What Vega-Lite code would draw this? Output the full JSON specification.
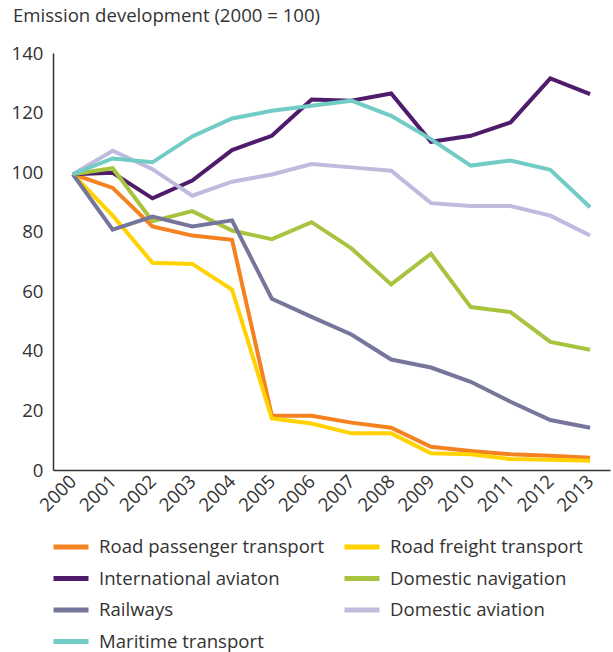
{
  "$schema": "https://vega.github.io/schema/vega-lite/v6.json",
  "width": 557,
  "height": 417,
  "autosize": {"type": "none"},
  "padding": {"left": 53, "top": 53, "right": 3, "bottom": 182},
  "background": "white",
  "title": {"text": "Emission development (2000 = 100)", "anchor": "start", "frame": "group", "dx": -40, "offset": 18, "fontSize": 18.6, "fontWeight": "normal", "font": "Open Sans", "color": "#333333"},
  "config": {"view": {"stroke": null}, "font": "Open Sans"},
  "data": {"values": [
    {"year": "2000", "series": "Road passenger transport", "value": 99.3},
    {"year": "2001", "series": "Road passenger transport", "value": 94.7},
    {"year": "2002", "series": "Road passenger transport", "value": 81.8},
    {"year": "2003", "series": "Road passenger transport", "value": 78.7},
    {"year": "2004", "series": "Road passenger transport", "value": 77.3},
    {"year": "2005", "series": "Road passenger transport", "value": 18.2},
    {"year": "2006", "series": "Road passenger transport", "value": 18.2},
    {"year": "2007", "series": "Road passenger transport", "value": 15.9},
    {"year": "2008", "series": "Road passenger transport", "value": 14.2},
    {"year": "2009", "series": "Road passenger transport", "value": 7.8},
    {"year": "2010", "series": "Road passenger transport", "value": 6.4},
    {"year": "2011", "series": "Road passenger transport", "value": 5.3},
    {"year": "2012", "series": "Road passenger transport", "value": 4.8},
    {"year": "2013", "series": "Road passenger transport", "value": 4.1},
    {"year": "2000", "series": "Road freight transport", "value": 99.3},
    {"year": "2001", "series": "Road freight transport", "value": 85.4},
    {"year": "2002", "series": "Road freight transport", "value": 69.6},
    {"year": "2003", "series": "Road freight transport", "value": 69.2},
    {"year": "2004", "series": "Road freight transport", "value": 60.6},
    {"year": "2005", "series": "Road freight transport", "value": 17.3},
    {"year": "2006", "series": "Road freight transport", "value": 15.6},
    {"year": "2007", "series": "Road freight transport", "value": 12.3},
    {"year": "2008", "series": "Road freight transport", "value": 12.3},
    {"year": "2009", "series": "Road freight transport", "value": 5.6},
    {"year": "2010", "series": "Road freight transport", "value": 5.3},
    {"year": "2011", "series": "Road freight transport", "value": 3.7},
    {"year": "2012", "series": "Road freight transport", "value": 3.4},
    {"year": "2013", "series": "Road freight transport", "value": 3.1},
    {"year": "2000", "series": "International aviaton", "value": 99.3},
    {"year": "2001", "series": "International aviaton", "value": 99.8},
    {"year": "2002", "series": "International aviaton", "value": 91.2},
    {"year": "2003", "series": "International aviaton", "value": 97.2},
    {"year": "2004", "series": "International aviaton", "value": 107.4},
    {"year": "2005", "series": "International aviaton", "value": 112.2},
    {"year": "2006", "series": "International aviaton", "value": 124.4},
    {"year": "2007", "series": "International aviaton", "value": 124.0},
    {"year": "2008", "series": "International aviaton", "value": 126.4},
    {"year": "2009", "series": "International aviaton", "value": 110.2},
    {"year": "2010", "series": "International aviaton", "value": 112.2},
    {"year": "2011", "series": "International aviaton", "value": 116.7},
    {"year": "2012", "series": "International aviaton", "value": 131.5},
    {"year": "2013", "series": "International aviaton", "value": 126.2},
    {"year": "2000", "series": "Domestic navigation", "value": 99.3},
    {"year": "2001", "series": "Domestic navigation", "value": 101.3},
    {"year": "2002", "series": "Domestic navigation", "value": 83.5},
    {"year": "2003", "series": "Domestic navigation", "value": 86.9},
    {"year": "2004", "series": "Domestic navigation", "value": 80.4},
    {"year": "2005", "series": "Domestic navigation", "value": 77.5},
    {"year": "2006", "series": "Domestic navigation", "value": 83.2},
    {"year": "2007", "series": "Domestic navigation", "value": 74.4},
    {"year": "2008", "series": "Domestic navigation", "value": 62.3},
    {"year": "2009", "series": "Domestic navigation", "value": 72.6},
    {"year": "2010", "series": "Domestic navigation", "value": 54.7},
    {"year": "2011", "series": "Domestic navigation", "value": 53.0},
    {"year": "2012", "series": "Domestic navigation", "value": 43.0},
    {"year": "2013", "series": "Domestic navigation", "value": 40.4},
    {"year": "2000", "series": "Railways", "value": 99.3},
    {"year": "2001", "series": "Railways", "value": 80.7},
    {"year": "2002", "series": "Railways", "value": 85.1},
    {"year": "2003", "series": "Railways", "value": 81.8},
    {"year": "2004", "series": "Railways", "value": 83.8},
    {"year": "2005", "series": "Railways", "value": 57.5},
    {"year": "2006", "series": "Railways", "value": 51.4},
    {"year": "2007", "series": "Railways", "value": 45.5},
    {"year": "2008", "series": "Railways", "value": 37.1},
    {"year": "2009", "series": "Railways", "value": 34.4},
    {"year": "2010", "series": "Railways", "value": 29.6},
    {"year": "2011", "series": "Railways", "value": 22.9},
    {"year": "2012", "series": "Railways", "value": 16.8},
    {"year": "2013", "series": "Railways", "value": 14.2},
    {"year": "2000", "series": "Domestic aviation", "value": 99.3},
    {"year": "2001", "series": "Domestic aviation", "value": 107.2},
    {"year": "2002", "series": "Domestic aviation", "value": 101.0},
    {"year": "2003", "series": "Domestic aviation", "value": 92.1},
    {"year": "2004", "series": "Domestic aviation", "value": 96.8},
    {"year": "2005", "series": "Domestic aviation", "value": 99.2},
    {"year": "2006", "series": "Domestic aviation", "value": 102.7},
    {"year": "2007", "series": "Domestic aviation", "value": 101.6},
    {"year": "2008", "series": "Domestic aviation", "value": 100.5},
    {"year": "2009", "series": "Domestic aviation", "value": 89.6},
    {"year": "2010", "series": "Domestic aviation", "value": 88.6},
    {"year": "2011", "series": "Domestic aviation", "value": 88.6},
    {"year": "2012", "series": "Domestic aviation", "value": 85.4},
    {"year": "2013", "series": "Domestic aviation", "value": 78.7},
    {"year": "2000", "series": "Maritime transport", "value": 99.3},
    {"year": "2001", "series": "Maritime transport", "value": 104.6},
    {"year": "2002", "series": "Maritime transport", "value": 103.3},
    {"year": "2003", "series": "Maritime transport", "value": 112.0},
    {"year": "2004", "series": "Maritime transport", "value": 118.0},
    {"year": "2005", "series": "Maritime transport", "value": 120.6},
    {"year": "2006", "series": "Maritime transport", "value": 122.3},
    {"year": "2007", "series": "Maritime transport", "value": 124.0},
    {"year": "2008", "series": "Maritime transport", "value": 118.9},
    {"year": "2009", "series": "Maritime transport", "value": 111.1},
    {"year": "2010", "series": "Maritime transport", "value": 102.2},
    {"year": "2011", "series": "Maritime transport", "value": 103.9},
    {"year": "2012", "series": "Maritime transport", "value": 100.8},
    {"year": "2013", "series": "Maritime transport", "value": 88.2}
  ]},
  "mark": {"type": "line", "strokeWidth": 4},
  "encoding": {
    "x": {
      "field": "year", "type": "ordinal",
      "scale": {"type": "point", "padding": 0.5},
      "axis": {"title": null, "labelAngle": -45, "labelAlign": "right", "labelBaseline": "middle", "labelFontSize": 18.6, "labelColor": "#333333", "ticks": false, "domainColor": "#333333", "domainWidth": 1.5, "labelPadding": 8, "labelFont": "Open Sans"}
    },
    "y": {
      "field": "value", "type": "quantitative",
      "scale": {"domain": [0, 140], "nice": false, "zero": true},
      "axis": {"title": null, "values": [0, 20, 40, 60, 80, 100, 120, 140], "grid": false, "ticks": false, "labelFontSize": 18.6, "labelColor": "#333333", "labelPadding": 10, "domainColor": "#333333", "domainWidth": 1.5, "labelFont": "Open Sans"}
    },
    "color": {
      "field": "series", "type": "nominal",
      "scale": {
        "domain": ["Road passenger transport", "Road freight transport", "International aviaton", "Domestic navigation", "Railways", "Domestic aviation", "Maritime transport"],
        "range": ["#F58220", "#FFD200", "#4E1C6A", "#A8C43F", "#76769C", "#BEBBDE", "#72CCC6"]
      },
      "legend": {
        "orient": "none", "legendX": -2, "legendY": 474, "columns": 2, "direction": "horizontal", "title": null,
        "symbolType": "stroke", "symbolStrokeWidth": 5, "symbolSize": 1225,
        "labelFontSize": 18.6, "labelColor": "#333333", "labelFont": "Open Sans", "labelOffset": 8, "labelLimit": 300,
        "rowPadding": 1.5, "columnPadding": 9
      }
    }
  }
}
